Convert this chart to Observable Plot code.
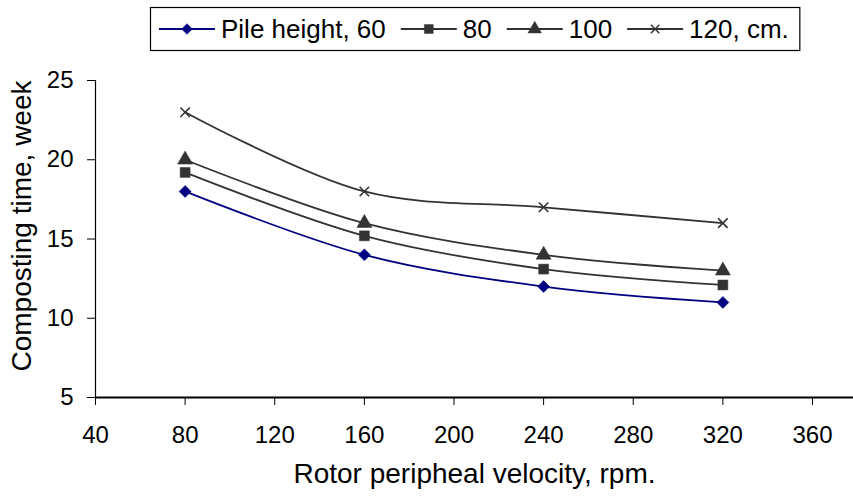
<!DOCTYPE html>
<html>
<head>
<meta charset="utf-8">
<script src="https://cdn.jsdelivr.net/npm/d3@7"></script>
<script src="https://cdn.jsdelivr.net/npm/@observablehq/plot@0.6"></script>
<style>
  html, body { margin: 0; padding: 0; background: #fff; }
  #wrap { width: 853px; height: 499px; position: relative; font-family: "Liberation Sans", Arial, sans-serif; }
  #legend { height: 60px; }
</style>
</head>
<body>
<div id="wrap">
  <div id="legend"></div>
  <div id="chart"></div>
</div>
<script>
// Data
const velocity = [80, 160, 240, 320];
const seriesNames = ["Pile height, 60", "80", "100", "120, cm."];
const pile60  = [18.0, 14.0, 12.0, 11.0];
const pile80  = [19.2, 15.2, 13.1, 12.1];
const pile100 = [20.0, 16.0, 14.0, 13.0];
const pile120 = [23.0, 18.0, 17.0, 16.0];
const xTicks = [40, 80, 120, 160, 200, 240, 280, 320, 360];
const yTicks = [5, 10, 15, 20, 25];

const seriesValues = [pile60, pile80, pile100, pile120];
const seriesColors = ["#000080", "#333333", "#333333", "#333333"];
const seriesSymbols = ["diamond2", "square", "triangle", "times"];
const seriesR = [5.4, 5.6, 5.6, 4.4];

const data = [];
seriesValues.forEach((vals, i) => {
  vals.forEach((v, j) => data.push({series: seriesNames[i], idx: i, x: velocity[j], y: v}));
});

const font = '"Liberation Sans", Arial, sans-serif';

const plot = Plot.plot({
  width: 853,
  height: 439,
  marginTop: 20,
  marginBottom: 102,
  marginLeft: 95,
  marginRight: 0,
  style: {fontFamily: font, fontSize: "24px", color: "#000", background: "#fff", overflow: "visible"},
  x: {domain: [40, 378.3], ticks: xTicks},
  y: {domain: [5, 25], ticks: yTicks},
  marks: [
    Plot.ruleY([5], {stroke: "#000", strokeWidth: 2}),
    Plot.ruleX([40], {stroke: "#000", strokeWidth: 1.2}),
    Plot.axisX({ticks: xTicks, tickSize: 8, tickPadding: 20, fontSize: 24, label: null}),
    Plot.axisY({ticks: yTicks, tickSize: 8, tickPadding: 14, fontSize: 24, label: null}),
    Plot.text(["Rotor peripheal velocity, rpm."], {frameAnchor: "bottom", dy: 85, fontSize: 28, fill: "#000"}),
    Plot.text(["Composting time, week"], {frameAnchor: "left", textAnchor: "middle", dx: -73, dy: -13, rotate: -90, fontSize: 28, fill: "#000"}),
    ...seriesValues.map((vals, i) =>
      Plot.line(data.filter(d => d.idx === i), {x: "x", y: "y", stroke: seriesColors[i], strokeWidth: 1.8, curve: "catmull-rom"})
    ),
    ...seriesValues.map((vals, i) =>
      Plot.dot(data.filter(d => d.idx === i), {x: "x", y: "y", symbol: seriesSymbols[i], r: seriesR[i],
        fill: i === 3 ? "none" : seriesColors[i], stroke: seriesColors[i], strokeWidth: i === 3 ? 1.6 : 0.5})
    )
  ]
});
document.getElementById("chart").appendChild(plot);

// Legend
const lg = d3.select("#legend").append("svg").attr("width", 853).attr("height", 60)
  .style("font-family", font);
const box = lg.append("rect").attr("x", 150.5).attr("y", 7.5).attr("height", 43)
  .attr("fill", "#fff").attr("stroke", "#000").attr("stroke-width", 1.2);
let cx = 159;
const lgFont = 26;
const lineLen = 56;
seriesNames.forEach((name, i) => {
  const g = lg.append("g");
  g.append("line").attr("x1", cx).attr("x2", cx + lineLen).attr("y1", 29).attr("y2", 29)
    .attr("stroke", seriesColors[i]).attr("stroke-width", 1.8);
  const sym = {diamond2: d3.symbolDiamond2, square: d3.symbolSquare, triangle: d3.symbolTriangle, times: d3.symbolTimes}[seriesSymbols[i]];
  g.append("path").attr("d", d3.symbol(sym, Math.PI * seriesR[i] * seriesR[i] * 0.8)())
    .attr("transform", `translate(${cx + lineLen / 2},29)`)
    .attr("fill", i === 3 ? "none" : seriesColors[i]).attr("stroke", seriesColors[i]).attr("stroke-width", i === 3 ? 1.4 : 0.5);
  const t = g.append("text").attr("x", cx + lineLen + 6).attr("y", 29).attr("dy", "0.36em")
    .attr("font-size", lgFont).attr("fill", "#000").text(name);
  cx = cx + lineLen + 6 + t.node().getComputedTextLength() + 15;
});
box.attr("width", cx - 150.5 - 4);
</script>
</body>
</html>
